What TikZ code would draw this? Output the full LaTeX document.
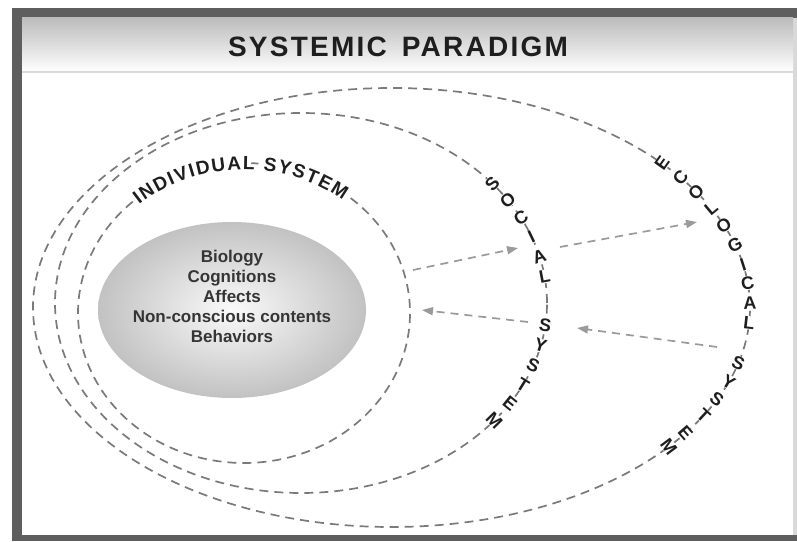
\documentclass[tikz,border=0pt]{standalone}
\usepackage{fontspec}
\setmainfont{Liberation Sans}
\newfontfamily\titlefont[LetterSpace=8]{Liberation Sans}
\usetikzlibrary{arrows.meta,calc,decorations.text,shapes.geometric}
\definecolor{framegray}{HTML}{5E5E5E}
\definecolor{headgray}{HTML}{BCBCBC}
\definecolor{ringgray}{HTML}{7A7A7A}
\definecolor{arrowgray}{HTML}{9A9A9A}
\definecolor{inkgray}{HTML}{1E1E1E}

\begin{document}
\begin{tikzpicture}[x=1pt, y=1pt,
    ring/.style={draw=ringgray, line width=1.7pt, dash pattern=on 9pt off 6pt},
    flow/.style={draw=arrowgray, line width=1.7pt, dash pattern=on 8pt off 6pt, -{Triangle[length=11pt,width=8pt]}},
    ringletter/.style={fill=white, inner sep=0.4pt, text=inkgray, font=\bfseries\fontsize{18}{18}\selectfont}]
  \useasboundingbox (0,0) rectangle (797,541);
  \fill[framegray] (12,0) rectangle (797,533);
  \fill[white] (22,6) rectangle (793,523);
  \fill[gray!30] (793,6) rectangle (797,523);
  \shade[top color=headgray, bottom color=white] (22,469) rectangle (793,523);
  \draw[gray!30, line width=1.2pt] (22,469) -- (793,469);
  \node[text=inkgray, font=\titlefont\bfseries\fontsize{28}{28}\selectfont] (title) at (398,494.5) {SYSTEMIC\hspace{5pt} PARADIGM};

  \coordinate (indc) at (244,228);
  \coordinate (socc) at (301,238);
  \coordinate (ecoc) at (391.5,233.5);

  \draw[ring] (ecoc) ellipse[x radius=358.5pt, y radius=219.5pt];
  \draw[ring] (socc) ellipse[x radius=246pt, y radius=190pt];
  \draw[ring] ($(indc)+(50:166pt and 150pt)$) arc[start angle=50, end angle=-229, x radius=166pt, y radius=150pt];
  \draw[ring, solid] ($(indc)+(87.5:166pt and 150pt)$) arc[start angle=87.5, end angle=85, x radius=166pt, y radius=150pt];

  \node[ellipse, minimum width=268pt, minimum height=176pt, inner sep=0pt, inner color=gray!4, outer color=gray!48] (core) at (232,231) {};
  \node[align=center, text=inkgray!90, font=\bfseries\fontsize{17}{20}\selectfont] (coretext) at ([yshift=14pt]core.center) {Biology\\Cognitions\\Affects\\Non-conscious contents\\Behaviors};

  \path[decorate, decoration={text along path, text align={fit to path}, raise=-6.5pt, text color=inkgray,
      text={|\bfseries\fontsize{19}{19}\selectfont|INDIVIDUAL SYSTEM}}]
    ($(indc)+(131:166pt and 150pt)$) arc[start angle=131, end angle=52, x radius=166pt, y radius=150pt];

  \foreach \t/\c [count=\i] in {39/S,32.8/O,26.6/C,20.4/I,14.2/A,8/L,-6.7/S,-13/Y,-19.3/S,-25.6/T,-31.9/E,-38.2/M}{
    \pgfmathsetmacro{\rot}{atan2(190*cos(\t),-246*sin(\t))-90}
    \node[ringletter, rotate=\rot] (soc\i) at ($(socc)+(\t:246pt and 190pt)$) {\c};
  }
  \foreach \t/\c [count=\i] in {41/E,36.3/C,31.8/O,26.9/L,22/O,16.6/G,11.2/I,6.4/C,1.2/A,-4/L,-14.6/S,-19.8/Y,-24.8/S,-29.5/T,-34.9/E,-39.3/M}{
    \pgfmathsetmacro{\rot}{atan2(219.5*cos(\t),-358.5*sin(\t))-90}
    \node[ringletter, rotate=\rot] (eco\i) at ($(ecoc)+(\t:358.5pt and 219.5pt)$) {\c};
  }

  \coordinate (fromind) at (413,271);
  \coordinate (tosoc) at (518,293);
  \coordinate (fromsoc) at (560,294);
  \coordinate (toeco) at (697,319);
  \coordinate (backsoc) at (528,219);
  \coordinate (toind) at (422,231);
  \coordinate (backeco) at (717,194);
  \coordinate (tosocb) at (577,213);
  \draw[flow] (fromind) -- (tosoc);
  \draw[flow] (fromsoc) -- (toeco);
  \draw[flow] (backsoc) -- (toind);
  \draw[flow] (backeco) -- (tosocb);
\end{tikzpicture}
\end{document}
